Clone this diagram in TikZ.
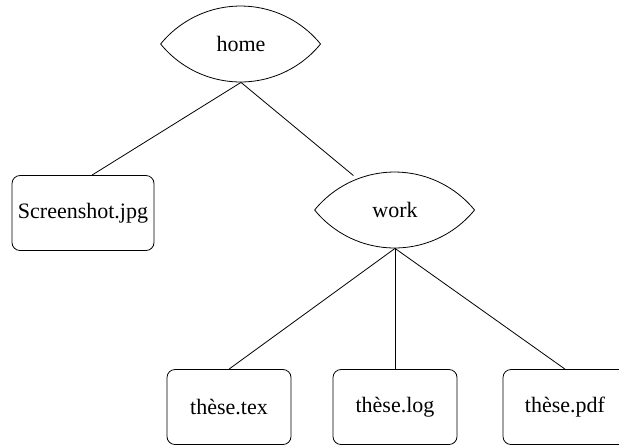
\documentclass[tikz,border=0pt]{standalone}
\usepackage{fontspec}
\setmainfont{Liberation Serif}
\usetikzlibrary{calc}

\begin{document}
\begin{tikzpicture}[x=0.5pt, y=-0.5pt,
    every node/.style={font=\fontsize{11}{13}\selectfont},
    lens/.style={minimum width=80pt, minimum height=38pt, inner sep=0pt},
    file/.style={draw, rounded corners=4pt, minimum width=62pt, minimum height=37.5pt, inner sep=0pt}]
            \useasboundingbox (0,0) rectangle (619,446);

            \node[lens] (home) at (241, 44) {home};
            \node[lens] (work) at (395, 210) {work};

            \node[file, minimum width=71pt] (shot) at (83, 213) {Screenshot.jpg};
            \node[file] (tex) at (229, 407) {thèse.tex};
            \node[file] (log) at (395, 407) {thèse.log};
            \node[file] (pdf) at (565, 407) {thèse.pdf};

            \foreach \n in {home, work}
                \draw (\n.west) arc[start angle=140.8, end angle=39.2, radius=51.6pt]
                      arc[start angle=-39.2, end angle=-140.8, radius=51.6pt];

            \draw (home.south) to ([xshift=4.5pt]shot.north);
            \draw (home.south) to ($(home.south)!0.73!(work)$);
            \foreach \f in {tex, log, pdf}
                \draw (work.south) to (\f.north);
        \end{tikzpicture}
\end{document}
